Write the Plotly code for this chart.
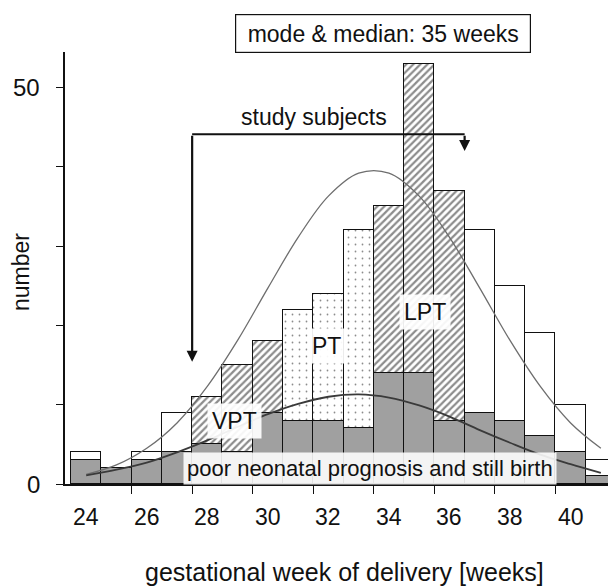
import plotly.graph_objects as go

# ---- data ----
weeks = [24, 25, 26, 27, 28, 29, 30, 31, 32, 33, 34, 35, 36, 37, 38, 39, 40, 41]
poor_prognosis = [3, 2, 3, 4, 5, 4, 9, 8, 8, 7, 14, 14, 8, 9, 8, 6, 4, 1]
total_births = [4, 2, 4, 9, 11, 15, 18, 22, 24, 32, 35, 53, 37, 32, 25, 19, 10, 3]
groups = ["", "", "", "", "VPT", "VPT", "VPT", "PT", "PT", "PT",
          "LPT", "LPT", "LPT", "", "", "", "", ""]

curve_weeks = [24, 25, 26, 27, 28, 29, 30, 31, 32, 33, 34, 35, 36, 37, 38, 39, 40, 41]
curve_all = [1.2, 2.4, 4.5, 7.7, 12.3, 18.1, 24.7, 31.1, 36.3, 39.2, 39.2, 36.3,
             31.1, 24.7, 18.1, 12.3, 7.7, 4.5]
curve_poor = [1.1, 1.8, 2.7, 4.0, 5.5, 7.2, 8.8, 10.1, 11.0, 11.3, 10.9, 9.9,
              8.5, 6.8, 5.2, 3.7, 2.5, 1.4]

x_label_weeks = [24, 26, 28, 30, 32, 34, 36, 38, 40]
x_tick_edges = [25.5, 27.5, 29.5, 31.5, 33.5, 35.5, 37.5, 39.5, 41.5]
y_ticks = [0, 10, 20, 30, 40, 50]

FONT = "Liberation Sans, Arial, sans-serif"
TXT = "#111111"

upper = [t - p for t, p in zip(total_births, poor_prognosis)]
shape_map = {"": "", "VPT": "/", "PT": ".", "LPT": "/"}
size_map = {"": 6, "VPT": 5, "PT": 7, "LPT": 5}
sol_map = {"": 0.2, "VPT": 0.45, "PT": 0.05, "LPT": 0.45}

fig = go.Figure()
fig.add_trace(go.Bar(
    x=weeks, y=poor_prognosis, width=1,
    marker=dict(color="#a0a0a0", line=dict(color="#111111", width=1.3)),
    showlegend=False, hoverinfo="skip"))
fig.add_trace(go.Bar(
    x=weeks, y=upper, width=1,
    marker=dict(color="white", line=dict(color="#111111", width=1.3),
                pattern=dict(shape=[shape_map[g] for g in groups],
                             size=[size_map[g] for g in groups],
                             solidity=[sol_map[g] for g in groups],
                             fgcolor="#1a1a1a", bgcolor="white",
                             fillmode="overlay")),
    showlegend=False, hoverinfo="skip"))

fig.add_trace(go.Scatter(x=curve_weeks, y=curve_all, mode="lines",
                         line=dict(color="#6e6e6e", width=1.3, shape="spline"),
                         showlegend=False, hoverinfo="skip"))
fig.add_trace(go.Scatter(x=curve_weeks, y=curve_poor, mode="lines",
                         line=dict(color="#3a3a3a", width=1.8, shape="spline"),
                         showlegend=False, hoverinfo="skip"))

annotations = []
# x tick labels
for w in x_label_weeks:
    annotations.append(dict(x=w, y=-0.0757, xref="x", yref="paper", text=str(w),
                            showarrow=False, xanchor="center", yanchor="middle",
                            font=dict(family=FONT, size=23, color=TXT)))
# y tick labels (only 0 and 50 labelled)
for v, lab in [(0, "0"), (50, "50")]:
    annotations.append(dict(x=-0.0417, y=v, xref="paper", yref="y", text=lab,
                            showarrow=False, xanchor="right", yanchor="middle",
                            font=dict(family=FONT, size=24, color=TXT)))
# axis titles
annotations.append(dict(x=0.5077, y=-0.203, xref="paper", yref="paper",
                        text="gestational week of delivery [weeks]", showarrow=False,
                        xanchor="center", yanchor="middle",
                        font=dict(family=FONT, size=25, color=TXT)))
annotations.append(dict(x=-0.0785, y=0.49, xref="paper", yref="paper",
                        text="number", showarrow=False, textangle=-90,
                        xanchor="center", yanchor="middle",
                        font=dict(family=FONT, size=23, color=TXT)))
# mode box
annotations.append(dict(x=0.5766, y=1.042, xref="paper", yref="paper",
                        text="mode &amp; median: 35 weeks", showarrow=False,
                        xanchor="center", yanchor="middle", width=294, height=37,
                        bordercolor="#111111", borderwidth=1.2, borderpad=0,
                        bgcolor="white",
                        font=dict(family=FONT, size=23, color=TXT)))
# study subjects
annotations.append(dict(x=31.51, y=46.24, xref="x", yref="y", text="study subjects",
                        showarrow=False, xanchor="center", yanchor="middle",
                        font=dict(family=FONT, size=23, color=TXT)))
# arrows of the bracket
annotations.append(dict(x=27.5, y=15.4, ax=27.5, ay=44.1, xref="x", yref="y",
                        axref="x", ayref="y", text="", showarrow=True,
                        arrowhead=2, arrowsize=1, arrowwidth=2.2, arrowcolor="#111111"))
annotations.append(dict(x=36.5, y=42.0, ax=36.5, ay=44.1, xref="x", yref="y",
                        axref="x", ayref="y", text="", showarrow=True,
                        arrowhead=2, arrowsize=1, arrowwidth=2.2, arrowcolor="#111111"))
# group labels
for lab, xx, yy in [("VPT", 28.91, 7.98), ("PT", 31.95, 17.44), ("LPT", 35.19, 21.65)]:
    annotations.append(dict(x=xx, y=yy, xref="x", yref="y", text=lab, showarrow=False,
                            xanchor="center", yanchor="middle",
                            bgcolor="rgba(255,255,255,0.92)", borderpad=4,
                            font=dict(family=FONT, size=23, color=TXT)))
annotations.append(dict(x=33.37, y=1.98, xref="x", yref="y",
                        text="poor neonatal prognosis and still birth", showarrow=False,
                        xanchor="center", yanchor="middle",
                        bgcolor="rgba(255,255,255,0.88)", borderpad=3,
                        font=dict(family=FONT, size=22, color=TXT)))

shapes = [dict(type="line", xref="x", yref="y", x0=27.5, x1=36.5, y0=44.1, y1=44.1,
               line=dict(color="#111111", width=2.2))]

# page body has an 8px margin: figure is 608x580 so the plot area sits at
# x 65..616, y 52..484 in the window
fig.update_layout(
    width=608, height=580,
    margin=dict(l=57, r=0, t=44, b=104),
    paper_bgcolor="white", plot_bgcolor="white",
    barmode="stack", bargap=0,
    showlegend=False,
    annotations=annotations, shapes=shapes,
    xaxis=dict(range=[23.3, 41.5], tickvals=x_tick_edges, ticks="outside",
               ticklen=8, tickcolor="#111111", tickwidth=1.2,
               showticklabels=False, showgrid=False, zeroline=False,
               showline=True, linecolor="#111111", linewidth=1.5),
    yaxis=dict(range=[0, 54.47], tickvals=y_ticks, ticks="outside",
               ticklen=7, tickcolor="#111111", tickwidth=1.2,
               showticklabels=False, showgrid=False, zeroline=False,
               showline=True, linecolor="#111111", linewidth=1.5),
)

fig.write_html("out.html")
